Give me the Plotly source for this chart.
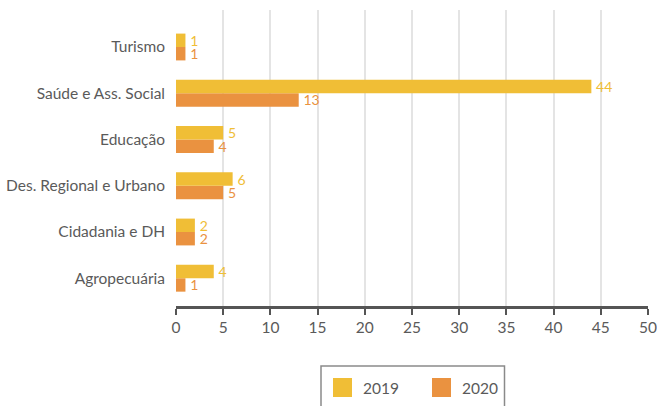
import plotly.graph_objects as go

# Categories listed bottom-to-top so the first one sits on the lowest row
categories = ["Agropecuária", "Cidadania e DH", "Des. Regional e Urbano",
              "Educação", "Saúde e Ass. Social", "Turismo"]
values_2019 = [4, 2, 6, 5, 44, 1]
values_2020 = [1, 2, 5, 4, 13, 1]
x_ticks = [0, 5, 10, 15, 20, 25, 30, 35, 40, 45, 50]
series_names = ["2019", "2020"]

COLOR_2019 = "#F0BE36"
COLOR_2020 = "#EA9240"
TEXT = "#5a5a5a"
FONT = "Source Sans Pro, Lato, Noto Sans, sans-serif"
FS = 15.5
VAL_FS = 14

fig = go.Figure()
# In a horizontal group, the first trace is drawn below the second
for name, vals, color in [(series_names[1], values_2020, COLOR_2020),
                          (series_names[0], values_2019, COLOR_2019)]:
    fig.add_trace(go.Bar(
        y=categories, x=vals, name=name, orientation="h",
        marker=dict(color=color, line=dict(width=0)),
        text=vals, texttemplate="\u2009%{x}", textposition="outside",
        cliponaxis=False, constraintext="none",
        textfont=dict(color=color, size=VAL_FS, family=FONT),
        showlegend=False,
    ))

L, R, T, B = 176, 9, 10, 100
W, H = 657, 406
pw, ph = W - L - R, H - T - B


def px(x):
    return (x - L) / pw


def py(y):
    return (H - B - y) / ph


# Legend drawn as a framed box with square swatches
shapes = [dict(type="rect", xref="paper", yref="paper",
               x0=px(321), x1=px(504.5), y0=py(366), y1=py(420),
               line=dict(color="#8a8a8a", width=1.5), fillcolor="rgba(0,0,0,0)")]
annotations = []
for name, color, sx in [(series_names[0], COLOR_2019, 333), (series_names[1], COLOR_2020, 432)]:
    shapes.append(dict(type="rect", xref="paper", yref="paper",
                       x0=px(sx), x1=px(sx + 19), y0=py(378), y1=py(397),
                       fillcolor=color, line=dict(width=0)))
    annotations.append(dict(xref="paper", yref="paper", x=px(sx + 28), y=py(388),
                            text=name, showarrow=False, xanchor="left", yanchor="middle",
                            font=dict(size=FS, color=TEXT, family=FONT)))

fig.update_layout(
    width=W, height=H,
    margin=dict(l=L, r=R, t=T, b=B, pad=0, autoexpand=False),
    barmode="group", bargap=0.42, bargroupgap=0,
    uniformtext=dict(mode=False),
    plot_bgcolor="white", paper_bgcolor="white",
    font=dict(family=FONT, size=FS, color=TEXT),
    shapes=shapes, annotations=annotations,
    xaxis=dict(range=[0, 50], tickvals=x_ticks, ticktext=[str(v) for v in x_ticks],
               automargin=False,
               showgrid=True, gridcolor="#e4e4e4", gridwidth=2,
               showline=True, linecolor="#555555", linewidth=2.5,
               ticks="outside", ticklen=6, tickwidth=2, tickcolor="#555555",
               tickfont=dict(size=FS, color=TEXT, family=FONT),
               zeroline=False, fixedrange=True),
    yaxis=dict(categoryorder="array", categoryarray=categories, automargin=False,
               range=[-0.6, 5.8], showgrid=False, showline=False, zeroline=False,
               ticks="", ticklabelstandoff=10,
               tickfont=dict(size=FS, color=TEXT, family=FONT)),
)

fig.write_html("out.html")
